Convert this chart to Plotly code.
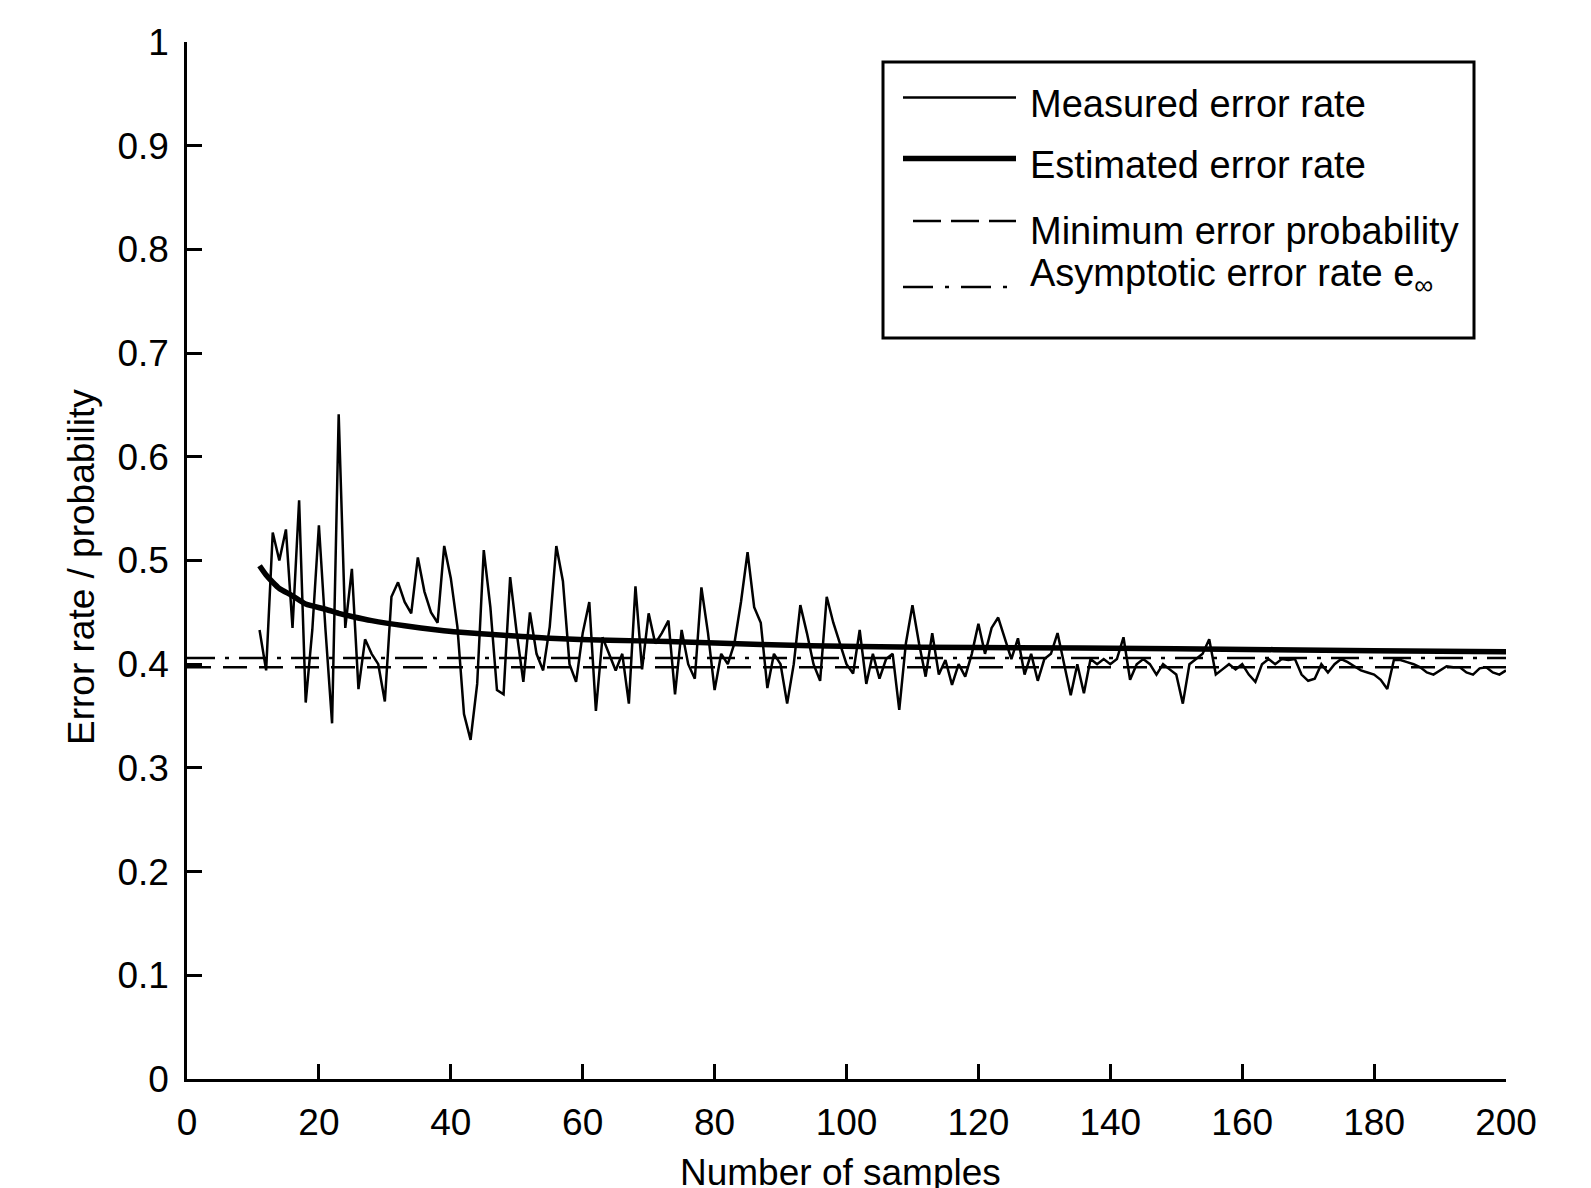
import plotly.graph_objects as go

# ---------------- data ----------------
n_measured = list(range(11, 201))
measured = [
    0.433, 0.394, 0.527, 0.500, 0.530, 0.435, 0.558, 0.363, 0.433, 0.534,   # 11-20
    0.433, 0.343, 0.641, 0.435, 0.492, 0.376, 0.424, 0.410, 0.400, 0.364,   # 21-30
    0.465, 0.479, 0.460, 0.449, 0.503, 0.470, 0.450, 0.440, 0.514, 0.483,   # 31-40
    0.436, 0.352, 0.327, 0.381, 0.510, 0.455, 0.375, 0.371, 0.484, 0.430,   # 41-50
    0.383, 0.450, 0.410, 0.394, 0.436, 0.514, 0.480, 0.400, 0.383, 0.430,   # 51-60
    0.460, 0.355, 0.426, 0.410, 0.394, 0.410, 0.362, 0.475, 0.395, 0.449,   # 61-70
    0.420, 0.430, 0.442, 0.371, 0.433, 0.400, 0.386, 0.474, 0.430, 0.375,   # 71-80
    0.410, 0.400, 0.420, 0.460, 0.508, 0.455, 0.440, 0.377, 0.410, 0.400,   # 81-90
    0.362, 0.400, 0.457, 0.430, 0.400, 0.384, 0.465, 0.440, 0.420, 0.400,   # 91-100
    0.391, 0.433, 0.381, 0.410, 0.386, 0.405, 0.410, 0.356, 0.420, 0.457,   # 101-110
    0.420, 0.388, 0.430, 0.390, 0.404, 0.380, 0.400, 0.388, 0.410, 0.439,   # 111-120
    0.410, 0.435, 0.445, 0.425, 0.405, 0.425, 0.390, 0.410, 0.384, 0.405,   # 121-130
    0.410, 0.430, 0.400, 0.370, 0.400, 0.372, 0.405, 0.400, 0.405, 0.400,   # 131-140
    0.405, 0.426, 0.385, 0.400, 0.405, 0.400, 0.390, 0.400, 0.395, 0.390,   # 141-150
    0.362, 0.400, 0.405, 0.410, 0.424, 0.390, 0.395, 0.400, 0.395, 0.400,   # 151-160
    0.390, 0.383, 0.400, 0.405, 0.400, 0.405, 0.404, 0.405, 0.390, 0.384,   # 161-170
    0.386, 0.400, 0.392, 0.400, 0.405, 0.402, 0.398, 0.394, 0.392, 0.390,   # 171-180
    0.385, 0.376, 0.404, 0.404, 0.402, 0.400, 0.397, 0.392, 0.390, 0.394,   # 181-190
    0.398, 0.397, 0.397, 0.392, 0.390, 0.396, 0.397, 0.392, 0.390, 0.394,   # 191-200
]

n_estimated = [11, 12, 13, 14, 16, 18, 21, 23, 25, 28, 33, 38, 41, 48, 55, 64, 73,
               87, 102, 120, 150, 180, 200]
estimated = [0.495, 0.486, 0.479, 0.473, 0.466, 0.458, 0.453, 0.449, 0.446, 0.442,
             0.437, 0.433, 0.431, 0.428, 0.425, 0.423, 0.422, 0.419, 0.417, 0.416,
             0.415, 0.413, 0.412]

n_range = [0, 200]
min_error_probability = [0.397, 0.397]
asymptotic_error_rate = [0.406, 0.406]

x_ticks = [0, 20, 40, 60, 80, 100, 120, 140, 160, 180, 200]
x_tick_labels = ["0", "20", "40", "60", "80", "100", "120", "140", "160", "180", "200"]
y_ticks = [0, 0.1, 0.2, 0.3, 0.4, 0.5, 0.6, 0.7, 0.8, 0.9, 1]
y_tick_labels = ["0", "0.1", "0.2", "0.3", "0.4", "0.5", "0.6", "0.7", "0.8", "0.9", "1"]

legend_labels = ["Measured error rate", "Estimated error rate",
                 "Minimum error probability", "Asymptotic error rate e<sub>\u221e</sub>"]

# ---------------- styles ----------------
FONT = "Liberation Sans, Arial, sans-serif"
FS = 37
FS_LEG = 38
BLACK = "black"
DASH = "24px,12px"
DASHDOT = "28px,10px,4px,10px"

OFF = 8  # page body margin
W, H = 1591 - OFF, 1188 - OFF
# plot area in page pixel coordinates
L, R, T, B = 187, 1506, 42, 1079


def px(x):
    return (x - L) / (R - L)


def py(y):
    return (B - y) / (B - T)


fig = go.Figure()
fig.add_trace(go.Scatter(x=n_range, y=min_error_probability, mode="lines",
                         line=dict(color=BLACK, width=2.5, dash=DASH),
                         name=legend_labels[2], showlegend=False))
fig.add_trace(go.Scatter(x=n_range, y=asymptotic_error_rate, mode="lines",
                         line=dict(color=BLACK, width=2.5, dash=DASHDOT),
                         name=legend_labels[3], showlegend=False))
fig.add_trace(go.Scatter(x=n_measured, y=measured, mode="lines",
                         line=dict(color=BLACK, width=2.5),
                         name=legend_labels[0], showlegend=False))
fig.add_trace(go.Scatter(x=n_estimated, y=estimated, mode="lines",
                         line=dict(color=BLACK, width=5.5, shape="spline", smoothing=0.6),
                         name=legend_labels[1], showlegend=False))

# manual legend (MATLAB style)
shapes = [
    dict(type="rect", xref="paper", yref="paper", x0=px(883), x1=px(1474),
         y0=py(338), y1=py(62), line=dict(color=BLACK, width=3), fillcolor="white",
         layer="below"),
    dict(type="line", xref="paper", yref="paper", x0=px(903), x1=px(1016),
         y0=py(97.5), y1=py(97.5), line=dict(color=BLACK, width=2.5)),
    dict(type="line", xref="paper", yref="paper", x0=px(903), x1=px(1016),
         y0=py(158.5), y1=py(158.5), line=dict(color=BLACK, width=5.5)),
    dict(type="line", xref="paper", yref="paper", x0=px(913), x1=px(1016),
         y0=py(221), y1=py(221), line=dict(color=BLACK, width=2.5, dash="28px,10px")),
    dict(type="line", xref="paper", yref="paper", x0=px(903), x1=px(1008),
         y0=py(287), y1=py(287), line=dict(color=BLACK, width=2.5, dash="30px,12px,4px,12px")),
]
legend_text_y = [104.5, 165.5, 231, 276]
annotations = []
for lbl, ty in zip(legend_labels, legend_text_y):
    annotations.append(dict(xref="paper", yref="paper", x=px(1028), y=py(ty),
                            xanchor="left", yanchor="middle", showarrow=False,
                            text=lbl, font=dict(family=FONT, size=FS_LEG, color=BLACK)))

# axis titles
annotations.append(dict(xref="paper", yref="paper", x=px(840), y=py(1172.5),
                        xanchor="center", yanchor="middle", showarrow=False,
                        text="Number of samples", font=dict(family=FONT, size=FS, color=BLACK)))
annotations.append(dict(xref="paper", yref="paper", x=px(81), y=py(567),
                        xanchor="center", yanchor="middle", showarrow=False, textangle=-90,
                        text="Error rate / probability", font=dict(family=FONT, size=FS, color=BLACK)))

axis_common = dict(showgrid=False, zeroline=False, showline=True, linecolor=BLACK,
                   linewidth=2.5, ticks="inside", ticklen=15, tickwidth=2.5,
                   tickcolor=BLACK, mirror=False,
                   tickfont=dict(family=FONT, size=FS, color=BLACK))

fig.update_layout(
    width=W, height=H,
    margin=dict(l=L - OFF, r=W - (R - OFF), t=T - OFF, b=H - (B - OFF), pad=0),
    paper_bgcolor="white", plot_bgcolor="white",
    showlegend=False,
    xaxis=dict(range=[0, 200], tickmode="array", tickvals=x_ticks, ticktext=x_tick_labels,
               ticklabelstandoff=9, **axis_common),
    yaxis=dict(range=[0, 1], tickmode="array", tickvals=y_ticks, ticktext=y_tick_labels,
               ticklabelstandoff=8, **axis_common),
    shapes=shapes,
    annotations=annotations,
)

fig.write_html("out.html")
